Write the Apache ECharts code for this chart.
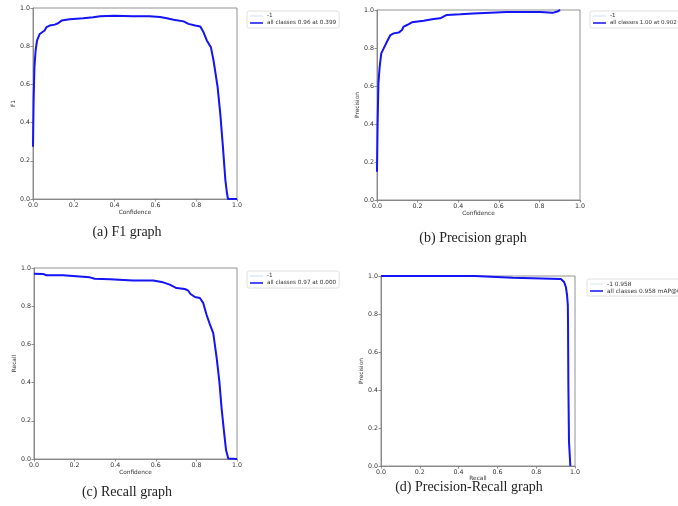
<!DOCTYPE html>
<html>
<head>
<meta charset="utf-8">
<script src="https://cdn.jsdelivr.net/npm/echarts@6/dist/echarts.min.js"></script>
<style>
  html, body { margin: 0; padding: 0; background: #fff; }
  #chart { width: 678px; height: 506px; }
</style>
</head>
<body>
<div id="chart"></div>
<script>
// ---- F1 vs confidence ----
const confF1 = [0, 0.003, 0.007, 0.013, 0.02, 0.033, 0.057, 0.066, 0.082, 0.107, 0.123, 0.14, 0.18, 0.246, 0.295, 0.33, 0.399, 0.49, 0.57, 0.623, 0.656, 0.689, 0.738, 0.762, 0.795, 0.82, 0.836, 0.852, 0.872, 0.885, 0.905, 0.918, 0.931, 0.943, 0.951, 0.956, 1.0];
const f1Vals = [0.273, 0.52, 0.69, 0.78, 0.83, 0.864, 0.882, 0.9, 0.908, 0.913, 0.92, 0.934, 0.941, 0.946, 0.951, 0.957, 0.96, 0.957, 0.957, 0.953, 0.946, 0.939, 0.93, 0.917, 0.908, 0.903, 0.873, 0.83, 0.795, 0.725, 0.586, 0.447, 0.273, 0.099, 0.03, 0, 0];

// ---- Precision vs confidence ----
const confP = [0, 0.003, 0.007, 0.013, 0.021, 0.033, 0.049, 0.066, 0.082, 0.107, 0.123, 0.131, 0.148, 0.172, 0.23, 0.279, 0.311, 0.344, 0.41, 0.475, 0.557, 0.639, 0.803, 0.865, 0.872, 0.888, 0.902];
const precVals = [0.149, 0.404, 0.614, 0.70, 0.772, 0.798, 0.833, 0.868, 0.877, 0.881, 0.895, 0.912, 0.921, 0.935, 0.944, 0.953, 0.956, 0.974, 0.977, 0.982, 0.986, 0.989, 0.989, 0.985, 0.99, 0.992, 1.0];

// ---- Recall vs confidence ----
const confR = [0, 0.044, 0.061, 0.143, 0.151, 0.275, 0.299, 0.373, 0.488, 0.587, 0.636, 0.669, 0.702, 0.743, 0.76, 0.771, 0.793, 0.817, 0.834, 0.85, 0.867, 0.883, 0.9, 0.913, 0.924, 0.936, 0.946, 0.957, 1.0];
const recVals = [0.97, 0.969, 0.962, 0.962, 0.953, 0.951, 0.944, 0.941, 0.935, 0.934, 0.925, 0.913, 0.895, 0.89, 0.881, 0.864, 0.848, 0.843, 0.816, 0.755, 0.703, 0.659, 0.528, 0.406, 0.266, 0.143, 0.047, 0.003, 0];

// ---- Precision vs recall ----
const recallPR = [0, 0.483, 0.486, 0.679, 0.683, 0.927, 0.944, 0.953, 0.959, 0.963, 0.964, 0.966, 0.969, 0.976];
const precisionPR = [1.0, 1.0, 0.991, 0.991, 0.984, 0.984, 0.968, 0.942, 0.9, 0.847, 0.76, 0.409, 0.128, 0];

const ticks = [0, 0.2, 0.4, 0.6, 0.8, 1.0];
const captions = ['(a) F1 graph', '(b) Precision graph', '(c) Recall graph', '(d) Precision-Recall graph'];
const xNames = ['Confidence', 'Confidence', 'Confidence', 'Recall'];
const yNames = ['F1', 'Precision', 'Recall', 'Precision'];
const classLabels = ['-1', '-1', '-1', '-1 0.958'];
const allLabels = ['all classes 0.96 at 0.399', 'all classes 1.00 at 0.902', 'all classes 0.97 at 0.000', 'all classes 0.958 mAP@0.5'];

const panels = [
  { xs: confF1, ys: f1Vals },
  { xs: confP, ys: precVals },
  { xs: confR, ys: recVals },
  { xs: recallPR, ys: precisionPR }
];

const grids = [
  { left: 33, top: 8, width: 204, height: 191 },
  { left: 377, top: 10, width: 203, height: 190 },
  { left: 34, top: 268, width: 203, height: 191 },
  { left: 381, top: 276, width: 194, height: 190 }
];
const xNameGaps = [10, 10, 10, 7];
const legendPos = [
  { left: 247, top: 11, font: 5.7 },
  { left: 590, top: 11, font: 5.5 },
  { left: 247, top: 271, font: 5.7 },
  { left: 587, top: 279, font: 5.9 }
];
const captionPos = [[127, 232], [473, 238], [127, 492], [469, 487]];
const thinColors = ['#9fbde6', '#9fbde6', '#9fbde6', '#a6d9cf'];
const mainBlue = '#1414f5';
const FONT = 'DejaVu Sans';

function pairs(xs, ys) { return xs.map((x, i) => [x, ys[i]]); }

function axisBase(name, isY, gap) {
  return {
    type: 'value', min: 0, max: 1, interval: 0.2,
    name: name, nameLocation: 'middle', nameGap: gap,
    nameTextStyle: { fontFamily: FONT, fontSize: 5.8, color: '#333' },
    axisLine: { show: true, lineStyle: { color: '#777', width: 0.8 } },
    axisTick: { show: true, length: 2.5, lineStyle: { color: '#777', width: 0.8 } },
    axisLabel: { fontFamily: FONT, fontSize: 6.3, color: '#333', margin: 3,
      formatter: v => v.toFixed(1) },
    splitLine: { show: false }
  };
}

const thinIcon = 'path://M0,0L30,0L30,1.2L0,1.2Z';
const thickIcon = 'path://M0,0L30,0L30,3.5L0,3.5Z';

const option = {
  animation: false,
  backgroundColor: '#fff',
  grid: grids.map(g => Object.assign({ show: true, borderColor: '#777', borderWidth: 0.8 }, g)),
  xAxis: panels.map((p, i) => Object.assign(axisBase(xNames[i], false, xNameGaps[i]), { gridIndex: i })),
  yAxis: panels.map((p, i) => Object.assign(axisBase(yNames[i], true, 12), { gridIndex: i })),
  legend: panels.map((p, i) => ({
    left: legendPos[i].left, top: legendPos[i].top,
    orient: 'vertical',
    itemWidth: 13, itemHeight: 6, itemGap: 1,
    padding: [2, 3, 2, 3],
    borderColor: '#d8d8d8', borderWidth: 0.8, borderRadius: 2,
    backgroundColor: '#fff',
    selectedMode: false,
    textStyle: { fontFamily: FONT, fontSize: legendPos[i].font, color: '#333', padding: [0, 0, 0, -1] },
    data: [
      { name: classLabels[i], icon: thinIcon },
      { name: allLabels[i], icon: thickIcon }
    ]
  })),
  series: panels.flatMap((p, i) => [
    {
      name: classLabels[i], type: 'line', xAxisIndex: i, yAxisIndex: i,
      data: pairs(p.xs, p.ys), symbol: 'none', showSymbol: false, clip: false,
      color: thinColors[i],
      lineStyle: { width: 0.8, color: thinColors[i] }
    },
    {
      name: allLabels[i], type: 'line', xAxisIndex: i, yAxisIndex: i,
      data: pairs(p.xs, p.ys), symbol: 'none', showSymbol: false, clip: false,
      color: mainBlue,
      lineStyle: { width: 2, color: mainBlue }
    }
  ]),
  graphic: captions.map((c, i) => ({
    type: 'text', x: captionPos[i][0], y: captionPos[i][1],
    style: {
      text: c, fill: '#222', align: 'center', verticalAlign: 'middle',
      font: '14px "Liberation Serif", "DejaVu Serif", serif'
    }
  }))
};

const chart = echarts.init(document.getElementById('chart'), null, { renderer: 'canvas' });
chart.setOption(option);
</script>
</body>
</html>
